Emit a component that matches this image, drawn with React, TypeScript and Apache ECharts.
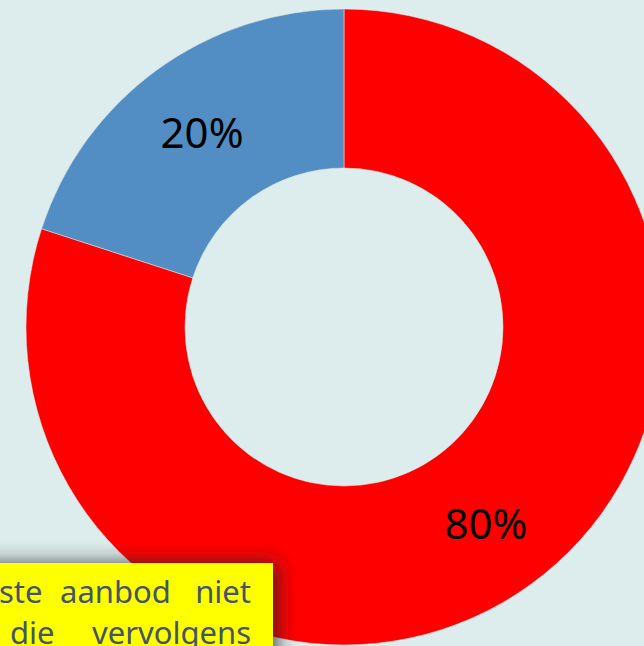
import React, { useEffect, useRef } from "react";
import * as echarts from "echarts";

const categories = ["Rood", "Blauw"];
const values = [80, 20];
const colors = ["#ff0000", "#528ec3"];
const line1Words = ["ste", "aanbod", "niet"];
const line2Words = ["die", "vervolgens"];

export default function App() {
  const ref = useRef<HTMLDivElement>(null);
  useEffect(() => {
    document.body.style.margin = "0";
    const chart = echarts.init(ref.current!, null, { renderer: "svg" });
    const textStyle = (x: number, y: number, t: string, align: string) => ({
      type: "text",
      x,
      y,
      z: 20,
      style: {
        text: t,
        fill: "#44546a",
        font: "31px 'Noto Sans', sans-serif",
        lineHeight: 36,
        textAlign: align,
        textVerticalAlign: "bottom",
      },
    });
    chart.setOption({
      animation: false,
      backgroundColor: "#ddecec",
      series: [
        {
          type: "pie",
          center: [344, 327],
          radius: [159, 318],
          startAngle: 90,
          clockwise: true,
          silent: true,
          itemStyle: { borderColor: "#ddecec", borderWidth: 0.5 },
          label: {
            show: true,
            position: "inside",
            formatter: "{d}%",
            color: "#000",
            fontSize: 42,
            fontFamily: "'Noto Sans', sans-serif",
          },
          labelLine: { show: false },
          data: categories.map((c, i) => ({
            name: c,
            value: values[i],
            itemStyle: { color: colors[i] },
          })),
        },
      ],
      graphic: [
        {
          type: "rect",
          z: 10,
          shape: { x: -30, y: 563, width: 303, height: 120 },
          style: {
            fill: "#ffff00",
            shadowBlur: 20,
            shadowColor: "rgba(40,40,40,0.8)",
            shadowOffsetX: 4,
            shadowOffsetY: 0,
          },
        },
        textStyle(-1, 609, line1Words[0], "left"),
        textStyle(60, 609, line1Words[1], "left"),
        textStyle(251, 609, line1Words[2], "right"),
        textStyle(10, 650, line2Words[0], "left"),
        textStyle(251, 650, line2Words[1], "right"),
      ],
    });
    return () => chart.dispose();
  }, []);
  return (
    <div
      ref={ref}
      style={{ position: "absolute", left: 0, top: 0, width: 644, height: 646 }}
    />
  );
}
